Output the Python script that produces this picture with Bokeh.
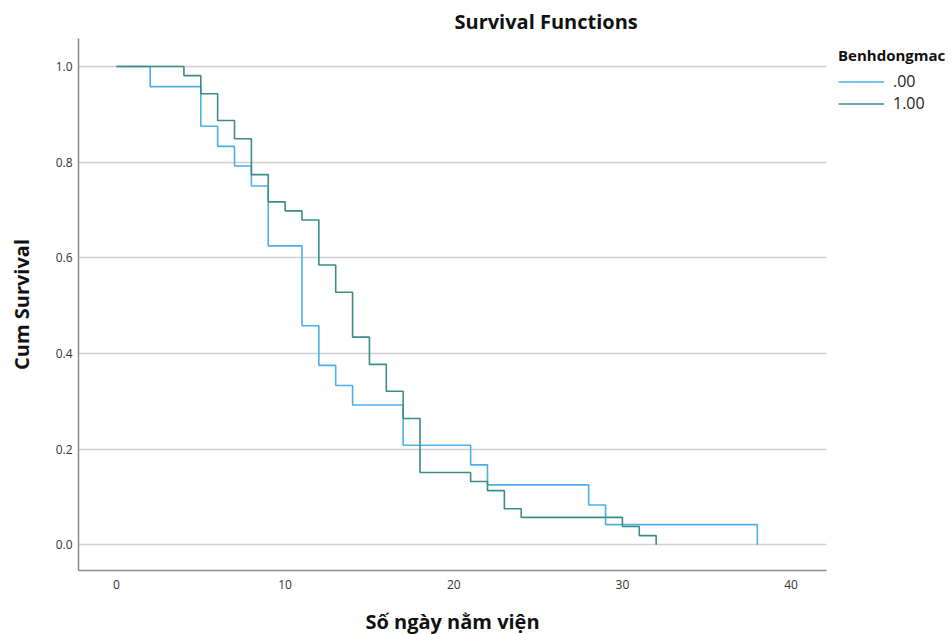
from bokeh.plotting import figure
from bokeh.models import FixedTicker, NumeralTickFormatter, Legend, LegendItem, Range1d, Title
from bokeh.embed import file_html
from bokeh.resources import INLINE

# ---- data ----
title_text = "Survival Functions"
x_label = "Số ngày nằm viện"
y_label = "Cum Survival"
legend_title = "Benhdongmac"
group_names = [".00", "1.00"]

days_00 = [0, 2, 5, 6, 7, 8, 9, 11, 12, 13, 14, 17, 21, 22, 28, 29, 38]
surv_00 = [1.0, 0.958, 0.875, 0.833, 0.792, 0.75, 0.625, 0.458, 0.375, 0.333,
           0.292, 0.208, 0.167, 0.125, 0.083, 0.042, 0.0]

days_100 = [0, 4, 5, 6, 7, 8, 9, 10, 11, 12, 13, 14, 15, 16, 17, 18, 21, 22, 23, 24, 30, 31, 32]
surv_100 = [1.0, 0.981, 0.943, 0.887, 0.849, 0.774, 0.717, 0.698, 0.679, 0.585, 0.528,
            0.434, 0.377, 0.321, 0.264, 0.151, 0.132, 0.113, 0.075, 0.057, 0.038, 0.019, 0.0]

x_ticks = [0, 10, 20, 30, 40]
y_ticks = [0.0, 0.2, 0.4, 0.6, 0.8, 1.0]

FONT = "Open Sans"
BLUE = "#4DAEEC"
TEAL = "#3C8B86"

p = figure(frame_width=748, frame_height=532, output_backend="svg", toolbar_location=None,
           x_range=Range1d(-2.25, 42.1), y_range=Range1d(-0.054, 1.0586),
           min_border_left=78, min_border_right=118, min_border_top=38, min_border_bottom=56,
           outline_line_color=None, background_fill_color="white", border_fill_color="white")

p.title = Title(text=title_text, align="left", offset=376, standoff=8,
                text_font=FONT, text_font_style="bold", text_font_size="20px",
                text_color="#111111")

r0 = p.step(days_00, surv_00, mode="after", line_color=BLUE, line_width=1.6)
r1 = p.step(days_100, surv_100, mode="after", line_color=TEAL, line_width=1.6)

# axes
p.xaxis.ticker = FixedTicker(ticks=x_ticks)
p.yaxis.ticker = FixedTicker(ticks=y_ticks)
p.yaxis.formatter = NumeralTickFormatter(format="0.0")
for ax in (p.xaxis[0], p.yaxis[0]):
    ax.major_tick_out = 0
    ax.major_tick_in = 0
    ax.minor_tick_out = 0
    ax.minor_tick_in = 0
    ax.axis_line_color = "#8a8a8a"
    ax.axis_line_width = 1.5
    ax.major_label_text_font = FONT
    ax.major_label_text_font_size = "12px"
    ax.major_label_text_color = "#333333"
    ax.axis_label_text_font = FONT
    ax.axis_label_text_font_style = "bold"
    ax.axis_label_text_font_size = "20px"
    ax.axis_label_text_color = "#111111"

p.xaxis.axis_label = x_label
p.yaxis.axis_label = y_label
p.xaxis.major_label_standoff = 9
p.xaxis.axis_label_standoff = 16
p.yaxis.major_label_standoff = 6
p.yaxis.axis_label_standoff = 18

p.xgrid.grid_line_color = None
p.ygrid.grid_line_color = "#cfcfcf"
p.ygrid.grid_line_width = 1.6

legend = Legend(items=[LegendItem(label=group_names[0], renderers=[r0]),
                       LegendItem(label=group_names[1], renderers=[r1])],
                title=legend_title, title_text_font=FONT, title_text_font_style="bold",
                title_text_font_size="15px", title_text_color="#111111", title_standoff=5,
                location=(12, 456), orientation="vertical",
                background_fill_alpha=0, border_line_color=None,
                padding=0, margin=0, spacing=-2,
                glyph_width=46, glyph_height=19, label_height=19, label_standoff=9,
                label_text_font=FONT, label_text_font_size="16px", label_text_color="#222222")
p.add_layout(legend, "right")

open("out.html", "w").write(file_html(p, INLINE))
